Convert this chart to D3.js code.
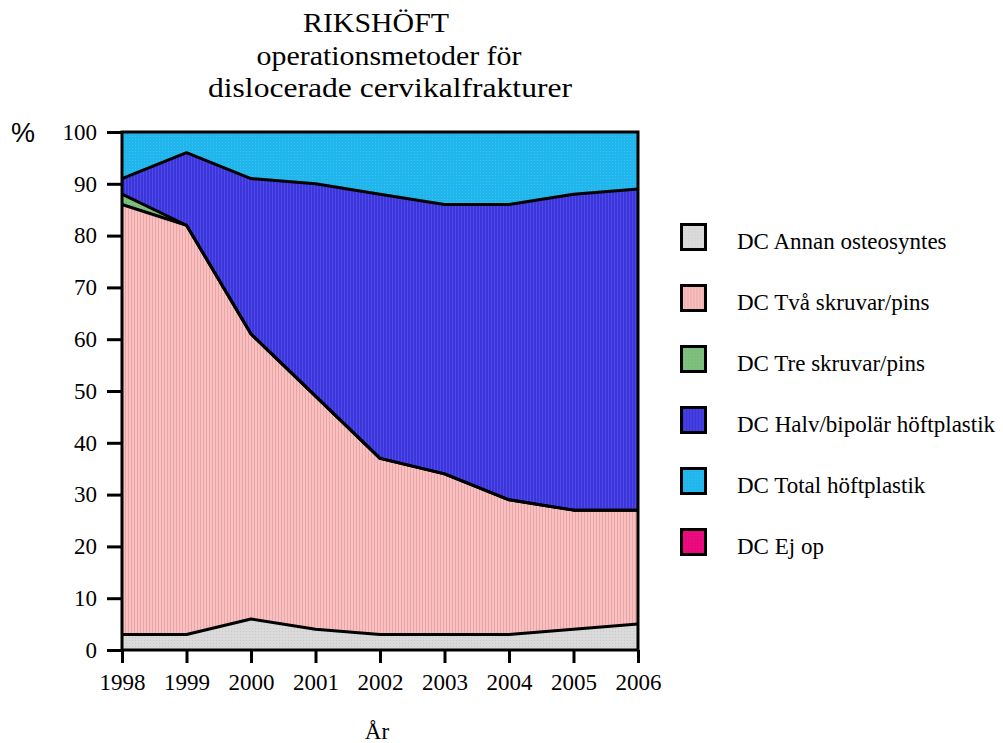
<!DOCTYPE html>
<meta charset="utf-8">
<style>
body { margin: 0; background: #fff; }
text { font-family: "Liberation Serif", "Times New Roman", serif; fill: #000; }
.axis line { stroke: #000; stroke-width: 3px; }
.axis text { font-size: 23px; font-family: "Liberation Serif", "Times New Roman", serif; }
</style>
<svg width="1003" height="743"></svg>
<script src="https://cdn.jsdelivr.net/npm/d3@7"></script>
<script>
var years = [1998, 1999, 2000, 2001, 2002, 2003, 2004, 2005, 2006];
var seriesNames = ["DC Annan osteosyntes", "DC Två skruvar/pins", "DC Tre skruvar/pins",
                   "DC Halv/bipolär höftplastik", "DC Total höftplastik", "DC Ej op"];
var annan  = [3, 3, 6, 4, 3, 3, 3, 4, 5];
var tva    = [83, 79, 55, 45, 34, 31, 26, 23, 22];
var tre    = [2, 0, 0, 0, 0, 0, 0, 0, 0];
var halv   = [3, 14, 30, 41, 51, 52, 57, 61, 62];
var total  = [9, 4, 9, 10, 12, 14, 14, 12, 11];
var ejop   = [0, 0, 0, 0, 0, 0, 0, 0, 0];
var yTicks = [0, 10, 20, 30, 40, 50, 60, 70, 80, 90, 100];

var colors = ["#dadada", "#f8c0c0", "#7fc07f", "#3a36da", "#20b6ec", "#ec0c80"];
var patColors = ["#c8c8c8", "#eaa6a6", "#6aae6a", "#5048e8", "#38c2f2", "#d00070"];

var cols = [annan, tva, tre, halv, total, ejop];
var table = years.map(function(y, i) {
  var row = {year: y};
  seriesNames.forEach(function(n, k) { row[n] = cols[k][i]; });
  return row;
});

var svg = d3.select("svg");
var margin = {left: 122, top: 132, right: 365, bottom: 93};
var width = 1003 - margin.left - margin.right,
    height = 743 - margin.top - margin.bottom;

// fine textures
var defs = svg.append("defs");
colors.forEach(function(c, k) {
  var p = defs.append("pattern").attr("id", "pat" + k)
    .attr("patternUnits", "userSpaceOnUse").attr("width", 3).attr("height", 3);
  p.append("rect").attr("width", 3).attr("height", 3).attr("fill", c);
  if (k == 1 || k == 3) {
    p.append("rect").attr("x", 0).attr("width", 1).attr("height", 3).attr("fill", patColors[k]);
  } else {
    p.append("rect").attr("x", 1).attr("y", 1).attr("width", 1).attr("height", 1).attr("fill", patColors[k]);
  }
});

var x = d3.scaleLinear().domain([1998, 2006]).range([0, width]);
var y = d3.scaleLinear().domain([0, 100]).range([height, 0]);

var g = svg.append("g").attr("transform", "translate(" + margin.left + "," + margin.top + ")");

var stack = d3.stack().keys(seriesNames);
var layers = stack(table);

var area = d3.area()
  .x(function(d) { return x(d.data.year); })
  .y0(function(d) { return y(d[0]); })
  .y1(function(d) { return y(d[1]); });
var topLine = d3.line()
  .x(function(d) { return x(d.data.year); })
  .y(function(d) { return y(d[1]); });

g.selectAll(".layer").data(layers).enter().append("path")
  .attr("class", "layer")
  .attr("d", area)
  .attr("fill", function(d, i) { return "url(#pat" + i + ")"; });

g.selectAll(".edge").data(layers.slice(0, 4)).enter().append("path")
  .attr("class", "edge")
  .attr("d", topLine)
  .attr("fill", "none")
  .attr("stroke", "#000")
  .attr("stroke-width", 3)
  .attr("stroke-linejoin", "round");

// frame
g.append("rect").attr("width", width).attr("height", height)
  .attr("fill", "none").attr("stroke", "#000").attr("stroke-width", 3);

g.append("g").attr("class", "axis")
  .call(d3.axisLeft(y).tickValues(yTicks).tickSize(15).tickPadding(10))
  .call(function(a) { a.select(".domain").remove(); });

g.append("g").attr("class", "axis")
  .attr("transform", "translate(0," + height + ")")
  .call(d3.axisBottom(x).tickValues(years).tickFormat(d3.format("d")).tickSize(13).tickPadding(11))
  .call(function(a) { a.select(".domain").remove(); });

// titles (lines sit tight, so slightly smaller font stretched to the original width)
var tl = [["RIKSHÖFT", 376, 32, 146], ["operationsmetoder för", 389, 64.5, 265], ["dislocerade cervikalfrakturer", 390, 97, 364]];
svg.selectAll(".title").data(tl).enter().append("text")
  .attr("class", "title")
  .attr("x", function(d) { return d[1]; }).attr("y", function(d) { return d[2]; })
  .attr("text-anchor", "middle").style("font-size", "28px")
  .attr("textLength", function(d) { return d[3]; })
  .attr("lengthAdjust", "spacingAndGlyphs")
  .text(function(d) { return d[0]; });

svg.append("text").attr("x", 11).attr("y", 142)
  .style("font-family", "Liberation Sans, Arial, sans-serif").style("font-size", "27px")
  .text("%");

svg.append("text").attr("x", 377).attr("y", 739)
  .attr("text-anchor", "middle").style("font-size", "23px").text("År");

// legend
var leg = svg.selectAll(".leg").data(seriesNames).enter().append("g")
  .attr("class", "leg")
  .attr("transform", function(d, i) { return "translate(681.5," + (224.5 + i * 61) + ")"; });
leg.append("rect").attr("width", 24).attr("height", 25)
  .attr("fill", function(d, i) { return "url(#pat" + i + ")"; })
  .attr("stroke", "#000").attr("stroke-width", 3);
leg.append("text").attr("x", 55.5).attr("y", 24).style("font-size", "23px")
  .text(function(d) { return d; });
</script>
